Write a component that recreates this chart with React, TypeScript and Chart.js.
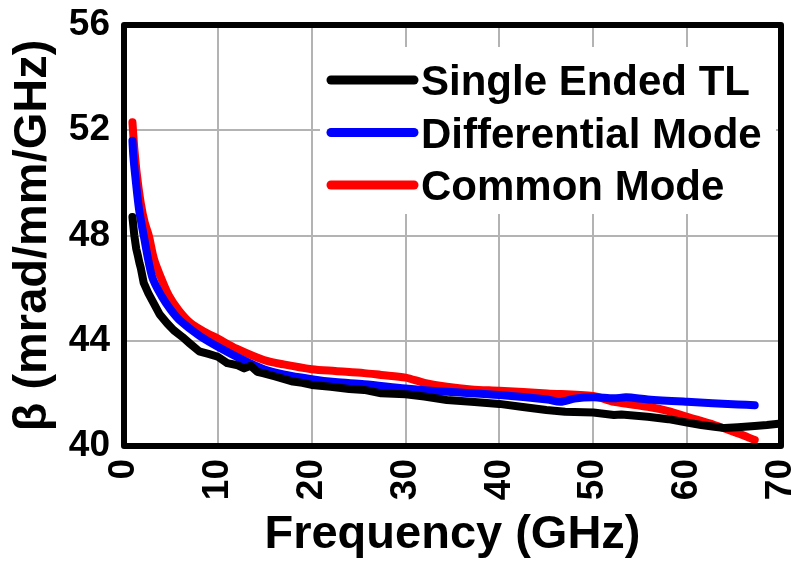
import React, { useEffect, useRef } from "react";
import { Chart, registerables } from "chart.js";

Chart.register(...registerables);

const seriesLabels = ["Single Ended TL", "Differential Mode", "Common Mode"];
const seriesColors = ["#000000", "#0000ff", "#ff0000"];

const freqSingle = [0.9, 1.1, 1.3, 1.5, 1.65, 1.8, 2.1, 2.6, 3.2, 3.8, 4.6, 5.3, 6.2, 7.0, 8.0, 9.0, 10.0, 11.0, 12.0, 12.8, 13.5, 14.2, 14.9, 16, 17, 18, 19, 20, 22, 24, 25.6, 27.4, 30, 32, 34.4, 37, 40, 42.5, 45, 47, 50, 52.2, 53, 55.8, 58, 60, 61.5, 62.9, 64, 65.4, 67.2, 68.5, 70];
const betaSingle = [48.7, 48.0, 47.5, 47.2, 46.95, 46.75, 46.2, 45.8, 45.4, 45.0, 44.66, 44.4, 44.15, 43.9, 43.6, 43.5, 43.39, 43.15, 43.08, 42.95, 43.05, 42.82, 42.76, 42.65, 42.55, 42.45, 42.4, 42.32, 42.25, 42.17, 42.13, 42.0, 41.97, 41.88, 41.75, 41.68, 41.6, 41.48, 41.37, 41.3, 41.27, 41.18, 41.2, 41.11, 41.02, 40.89, 40.8, 40.73, 40.68, 40.71, 40.76, 40.8, 40.86];

const freqDiff = [0.9, 1.0, 1.21, 1.6, 2.1, 3.0, 4.0, 5.0, 6.0, 8.0, 10, 12.5, 14.9, 17, 20, 22.5, 25.6, 30, 34.4, 40, 45.1, 46.5, 48, 50, 52.2, 53.5, 55.8, 60, 65.4, 67.2];
const betaDiff = [51.6, 51.0, 50.23, 49.0, 48.0, 46.43, 45.7, 45.17, 44.76, 44.2, 43.77, 43.3, 42.92, 42.72, 42.54, 42.43, 42.35, 42.19, 42.06, 41.94, 41.77, 41.68, 41.8, 41.85, 41.81, 41.85, 41.77, 41.68, 41.58, 41.55];

const freqCommon = [0.9, 1.1, 1.4, 1.8, 2.2, 2.64, 3.2, 3.9, 4.8, 5.8, 7, 8.5, 10, 12, 14.9, 17, 20, 22.5, 25.6, 27.4, 30, 32, 34.4, 37, 40, 45.1, 50, 52.2, 55.8, 58, 60, 62.9, 65.4, 67.2];
const betaCommon = [52.3, 51.3, 50.23, 49.2, 48.5, 48.0, 47.1, 46.43, 45.7, 45.17, 44.7, 44.35, 44.08, 43.7, 43.27, 43.1, 42.92, 42.85, 42.77, 42.7, 42.6, 42.4, 42.25, 42.15, 42.1, 42.0, 41.9, 41.68, 41.49, 41.33, 41.11, 40.8, 40.48, 40.23];

const xTicks = [0, 10, 20, 30, 40, 50, 60, 70];
const yTicks = [40, 44, 48, 52, 56];

const FONT = "'Liberation Sans', Arial, sans-serif";

const toPoints = (xs: number[], ys: number[]) => xs.map((x, i) => ({ x, y: ys[i] }));

const framePlugin = {
  id: "frame",
  afterDraw(chart: any) {
    const { ctx, chartArea } = chart;
    const { left, top, right, bottom } = chartArea;
    ctx.save();
    // legend box
    const bx = 320, by = 47, bw = right - 5 - bx, bh = 167;
    ctx.fillStyle = "#ffffff";
    ctx.fillRect(bx, by, bw, bh);
    const rowY = [80, 132.5, 185];
    chart.data.datasets.forEach((ds: any, i: number) => {
      ctx.strokeStyle = ds.borderColor;
      ctx.lineWidth = 9;
      ctx.lineCap = "round";
      ctx.beginPath();
      ctx.moveTo(331, rowY[i]);
      ctx.lineTo(414, rowY[i]);
      ctx.stroke();
      ctx.fillStyle = "#000";
      ctx.font = `bold 42px ${FONT}`;
      ctx.textBaseline = "alphabetic";
      ctx.textAlign = "left";
      ctx.fillText(ds.label, 421, rowY[i] + 15);
    });
    // frame
    ctx.strokeStyle = "#000";
    ctx.lineWidth = 6;
    ctx.lineJoin = "round";
    ctx.strokeRect(left, top, right - left, bottom - top);
    ctx.restore();
  },
};

export default function App() {
  const ref = useRef<HTMLCanvasElement | null>(null);
  useEffect(() => {
    if (!ref.current) return;
    const chart = new Chart(ref.current, {
      type: "line",
      data: {
        datasets: [
          { label: seriesLabels[0], data: toPoints(freqSingle, betaSingle), borderColor: seriesColors[0], tension: 0 },
          { label: seriesLabels[1], data: toPoints(freqDiff, betaDiff), borderColor: seriesColors[1], tension: 0.3 },
          { label: seriesLabels[2], data: toPoints(freqCommon, betaCommon), borderColor: seriesColors[2], tension: 0.3 },
        ].map((d) => ({
          ...d,
          borderWidth: 8,
          pointRadius: 0,
          borderCapStyle: "round" as const,
          borderJoinStyle: "round" as const,
          fill: false,
        })),
      },
      options: {
        animation: false,
        responsive: false,
        devicePixelRatio: 1,
        layout: { padding: { top: 25, right: 15, left: 0, bottom: 0 } },
        plugins: { legend: { display: false }, tooltip: { enabled: false } },
        scales: {
          x: {
            type: "linear",
            min: 0,
            max: 70,
            afterFit: (s: any) => { s.height = 115; s.paddingLeft = 0; s.paddingRight = 0; },
            afterBuildTicks: (s: any) => { s.ticks = xTicks.map((v) => ({ value: v })); },
            ticks: {
              stepSize: 10,
              minRotation: 90,
              maxRotation: 90,
              padding: 13,
              color: "#000",
              font: { family: FONT, size: 37, weight: "bold" },
            },
            grid: { color: "#b3b3b3", lineWidth: 2, drawTicks: false },
            border: { display: false },
            title: {
              display: true,
              text: "Frequency (GHz)",
              color: "#000",
              font: { family: FONT, size: 47, weight: "bold", lineHeight: 1 },
              padding: { top: 0, bottom: 2 },
            },
          },
          y: {
            type: "linear",
            min: 40,
            max: 56,
            afterFit: (s: any) => { s.width = 124; s.paddingTop = 0; s.paddingBottom = 0; },
            afterBuildTicks: (s: any) => { s.ticks = yTicks.map((v) => ({ value: v })); },
            ticks: {
              stepSize: 4,
              padding: 14,
              color: "#000",
              font: { family: FONT, size: 37, weight: "bold" },
            },
            grid: { color: "#b3b3b3", lineWidth: 2, drawTicks: false },
            border: { display: false },
            title: {
              display: true,
              text: "β (mrad/mm/GHz)",
              color: "#000",
              font: { family: FONT, size: 47, weight: "bold", lineHeight: 1 },
              padding: { top: 10, bottom: 0 },
            },
          },
        },
      },
      plugins: [framePlugin],
    });
    return () => chart.destroy();
  }, []);
  return (
    <div style={{ position: "absolute", left: 0, top: 0, width: 796, height: 561, background: "#fff" }}>
      <canvas ref={ref} width={796} height={561} />
    </div>
  );
}
